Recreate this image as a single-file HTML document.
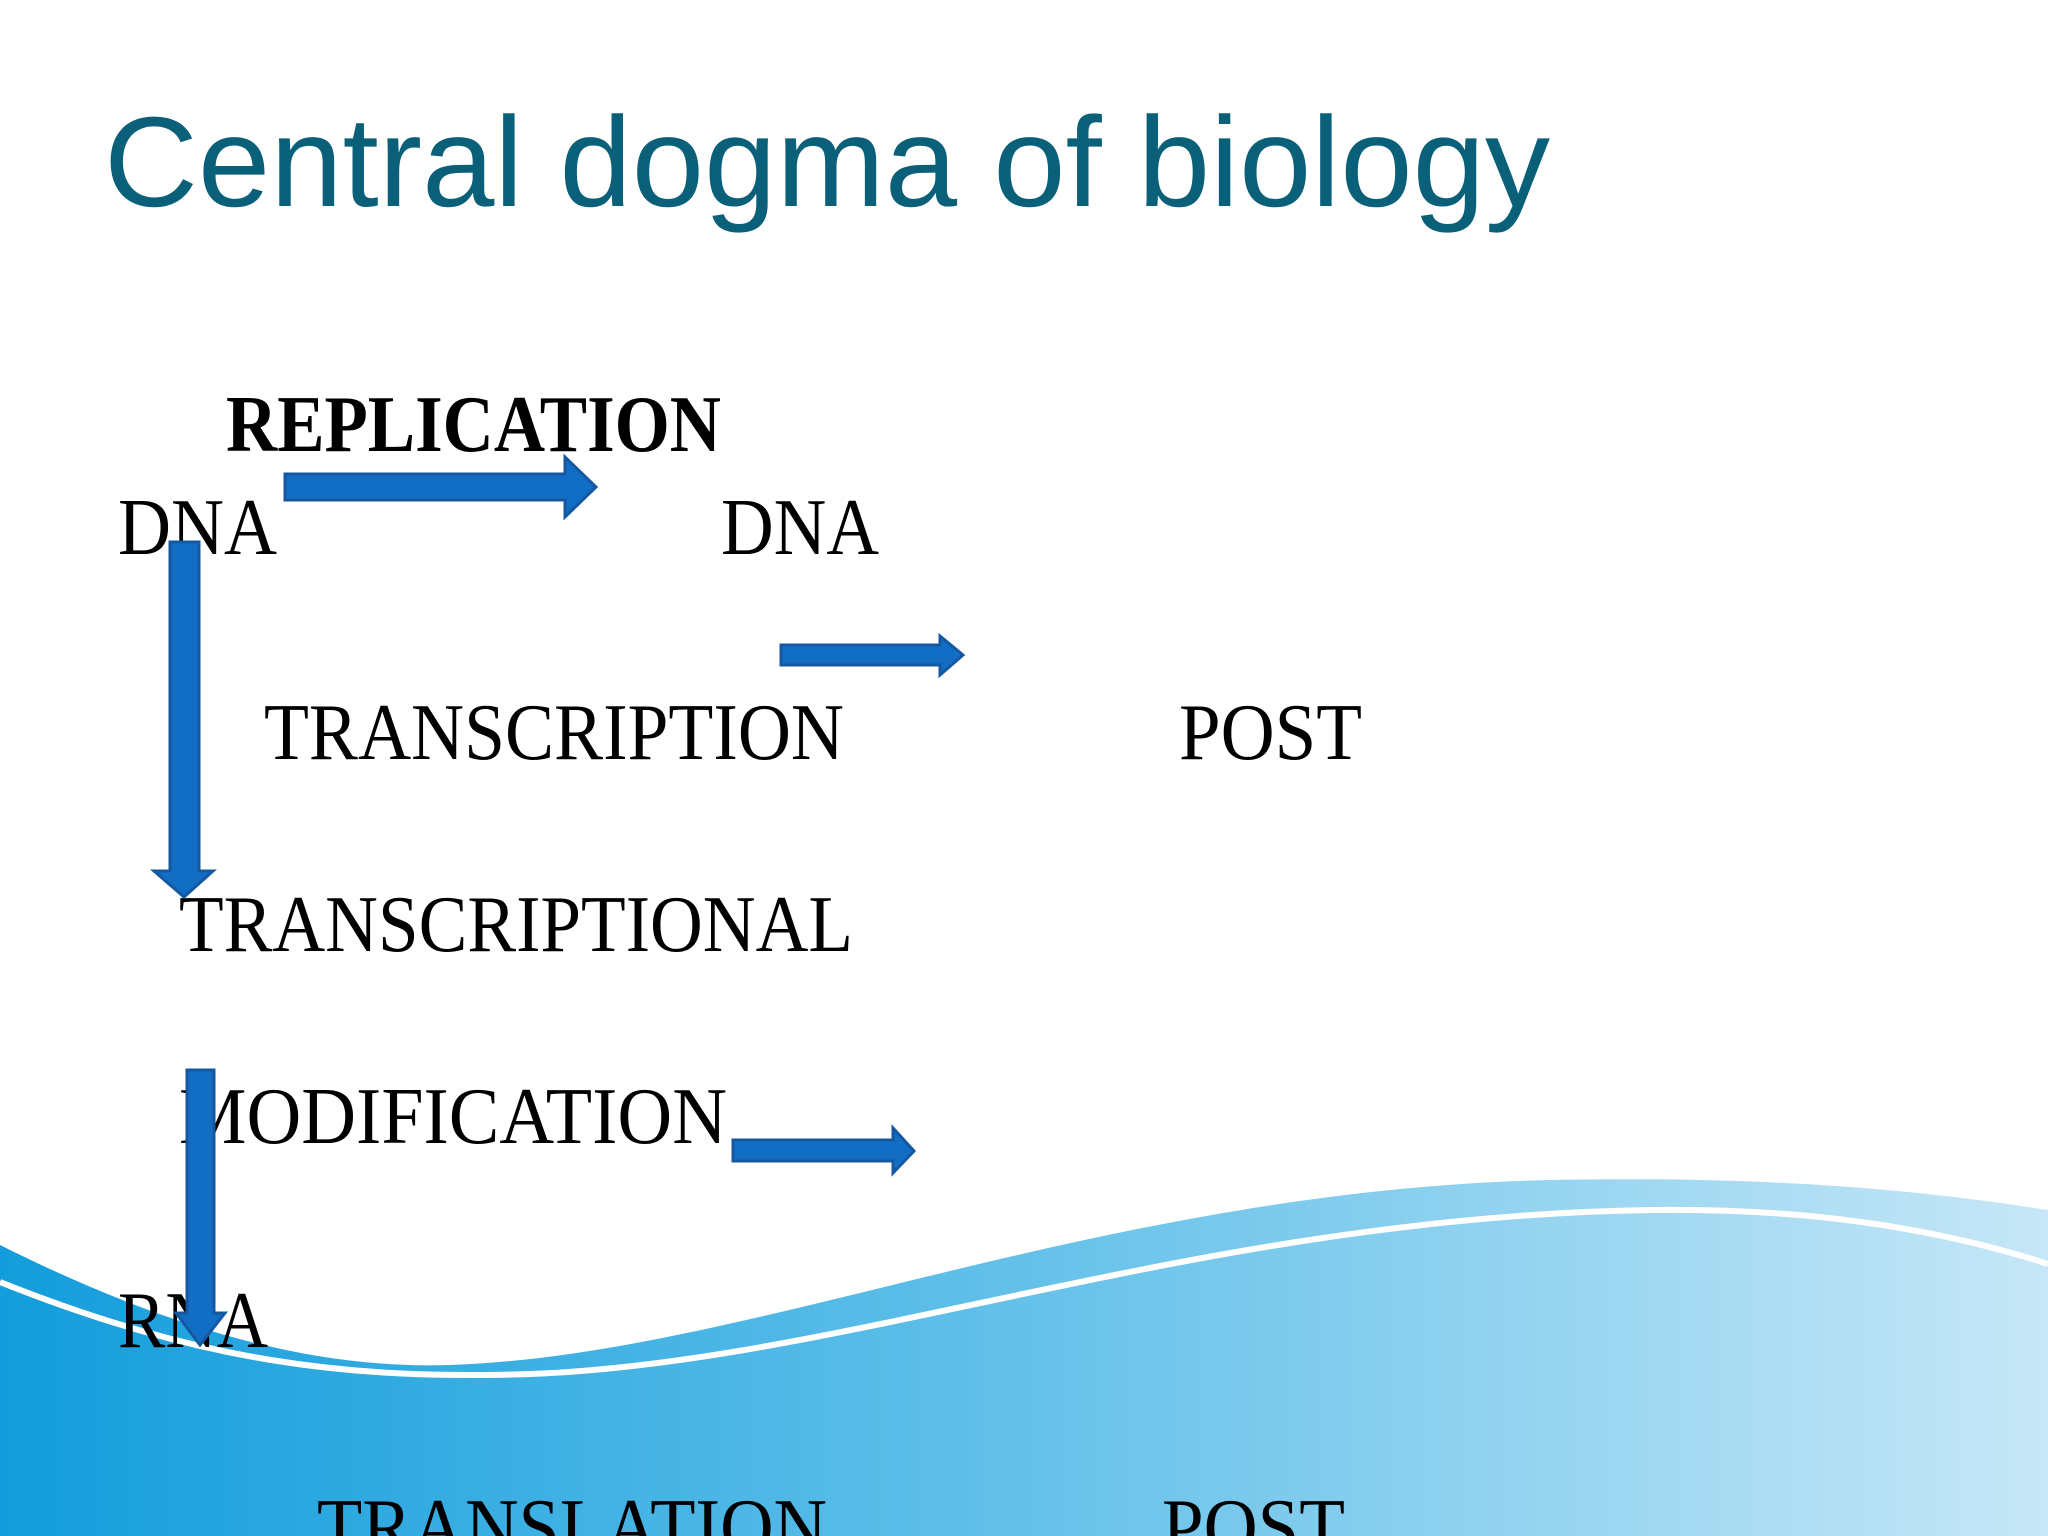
<!DOCTYPE html>
<html><head><meta charset="utf-8"><style>
html,body{margin:0;padding:0;background:#fff}
svg{display:block}
</style></head><body>
<svg width="2048" height="1536" viewBox="0 0 2048 1536" xmlns="http://www.w3.org/2000/svg">
<defs>
<linearGradient id="g" x1="0" y1="0" x2="1" y2="0">
<stop offset="0" stop-color="#139ddc"/>
<stop offset="0.45" stop-color="#5bbde8"/>
<stop offset="1" stop-color="#c6e7f7"/>
</linearGradient>
</defs>
<path d="M0,1245 C150,1320 300,1370 450,1365 C750,1355 1100,1190 1550,1180 C1800,1175 1950,1195 2048,1210 L2048,1536 L0,1536Z" fill="url(#g)"/>
<path d="M0,1282 C200,1362 350,1380 530,1374 C850,1362 1200,1217 1650,1210 C1850,1207 1980,1242 2048,1264" fill="none" stroke="#fff" stroke-width="6"/>
<text x="104" y="206" font-family="Liberation Sans, sans-serif" font-size="128" fill="#0a6078" textLength="1446" lengthAdjust="spacingAndGlyphs">Central dogma of biology</text>
<g font-family="Liberation Serif, serif" font-size="80" fill="#000">
<text x="226" y="451" font-weight="bold" textLength="495" lengthAdjust="spacingAndGlyphs">REPLICATION</text>
<text x="118" y="554" textLength="159" lengthAdjust="spacingAndGlyphs">DNA</text>
<text x="721" y="554" textLength="158" lengthAdjust="spacingAndGlyphs">DNA</text>
<text x="264" y="759" textLength="580" lengthAdjust="spacingAndGlyphs">TRANSCRIPTION</text>
<text x="1179" y="759" textLength="183" lengthAdjust="spacingAndGlyphs">POST</text>
<text x="179" y="951" textLength="674" lengthAdjust="spacingAndGlyphs">TRANSCRIPTIONAL</text>
<text x="179" y="1143" textLength="548" lengthAdjust="spacingAndGlyphs">MODIFICATION</text>
<text x="118" y="1347" textLength="150" lengthAdjust="spacingAndGlyphs">RNA</text>
<text x="317" y="1554" textLength="510" lengthAdjust="spacingAndGlyphs">TRANSLATION</text>
<text x="1162" y="1554" textLength="183" lengthAdjust="spacingAndGlyphs">POST</text>
</g>
<g fill="#126ec4" stroke="#1558a0" stroke-width="3" stroke-linejoin="miter">
<polygon points="285,474 565,474 565,457 596,487 565,517 565,500 285,500"/>
<polygon points="781,645 940,645 940,636 963,655 940,675 940,665 781,665"/>
<polygon points="170,542 199,542 199,871 213,871 184,897 154,871 170,871"/>
<polygon points="733,1140 893,1140 893,1128 914,1151 893,1173 893,1161 733,1161"/>
<polygon points="187,1070 214,1070 214,1313 225,1313 200,1345 176,1313 187,1313"/>
</g>
</svg>
</body></html>
